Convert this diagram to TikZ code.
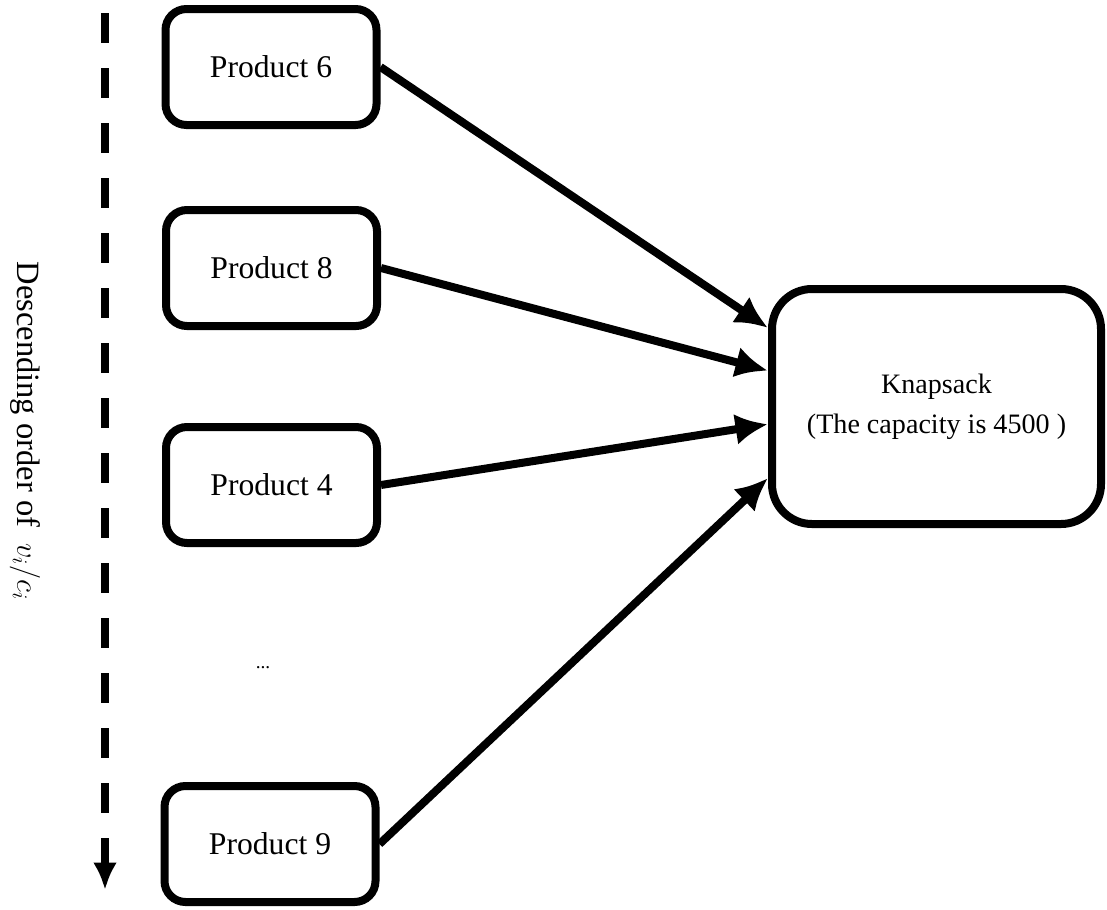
\documentclass[tikz,border=0pt]{standalone}
\usepackage{fontspec}
\setmainfont{Liberation Serif}
\usetikzlibrary{arrows.meta}

\begin{document}
\begin{tikzpicture}
		[block/.style ={rectangle, draw=black, line width=0.16cm, rounded corners=0.42cm, minimum width=4.22cm, minimum height=2.32cm, align=center, font=\fontsize{18pt}{22pt}\selectfont},
		sack/.style ={block, rounded corners=0.8cm, minimum width=6.58cm, minimum height=4.7cm, font=\fontsize{16pt}{22.8pt}\selectfont},
		line/.style ={draw, line width=0.16cm, -{Latex[length=0.65cm, width=0.62cm]}},
		order/.style ={draw, line width=0.15cm, dash pattern=on 0.6cm off 0.5cm, dash phase=0.84cm, -{Latex[length=0.55cm, width=0.48cm]}},
		]
		\useasboundingbox (0,0) rectangle (22.14,-18.18);

		\draw (5.42,-1.34) node[block] (P6) {Product 6};
		\draw (5.43,-5.36) node[block] (P8) {Product 8};
		\draw (5.43,-9.7) node[block] (P4) {Product 4};
		\draw (5.26,-13.36) node[font=\fontsize{11pt}{13pt}\selectfont] (dots) {...};
		\draw (5.4,-16.88) node[block] (P9) {Product 9};
		\draw (18.73,-8.13) node[sack] (KS) {Knapsack\\ (The capacity is 4500 )};

		\coordinate (top) at (2.1,0);
		\coordinate (bottom) at (2.1,-17.8);
		\draw (0.5,-8.62) node[rotate=-90, font=\fontsize{18.5pt}{22pt}\selectfont] (lbl) {Descending order of \ $v_i/c_i$};

		\path[order] (top) -- (bottom);
		\path[line] (P6.east) -- (KS.155);
		\path[line] (P8.east) -- (KS.168);
		\path[line] (P4.east) -- (KS.186);
		\path[line] (P9.east) -- (KS.203);
	\end{tikzpicture}
\end{document}
